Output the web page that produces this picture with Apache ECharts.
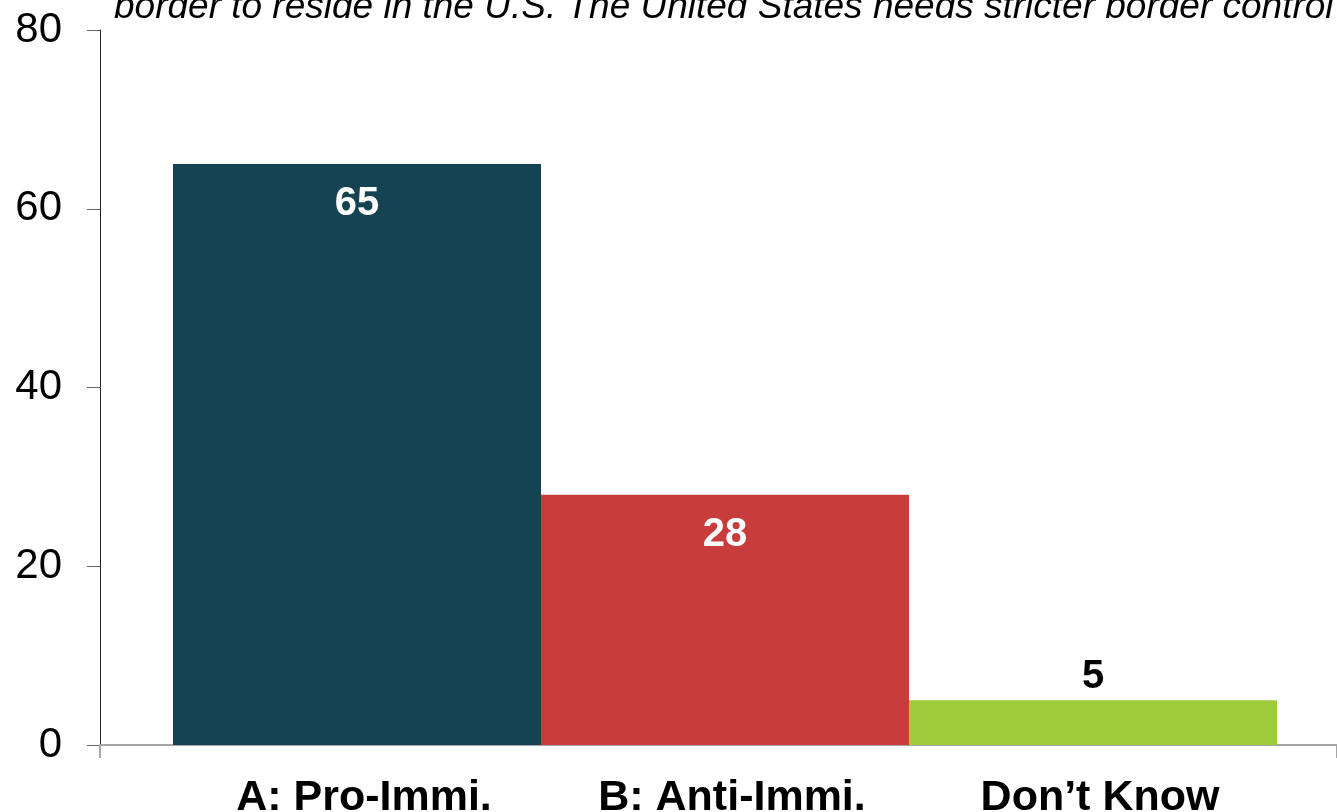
<!DOCTYPE html>
<html>
<head>
<meta charset="utf-8">
<style>
  html, body { margin: 0; padding: 0; background: #fff; }
  #main { width: 1337px; height: 812px; }
</style>
<script src="https://cdn.jsdelivr.net/npm/echarts@6/dist/echarts.min.js"></script>
</head>
<body>
<div id="main"></div>
<script>
// data
const categories = ['A: Pro-Immi.', 'B: Anti-Immi.', 'Don’t Know'];
const values = [65, 28, 5];
const yTicks = [0, 20, 40, 60, 80];
const titleText = 'border to reside in the U.S. The United States needs stricter border control';

const barColors = ['#164352', '#C93C3C', '#9ECB3B'];

const chart = echarts.init(document.getElementById('main'));

// big bars get the number inside in white, small ones above in black
const barData = values.map((v, i) => {
    const inside = v > 10;
    return {
        value: v,
        itemStyle: { color: barColors[i] },
        label: {
            show: true,
            position: inside ? 'insideTop' : 'top',
            distance: inside ? 20 : 3,
            color: inside ? '#fff' : '#000',
            fontSize: 40,
            fontWeight: 'bold',
            fontFamily: 'Liberation Sans'
        }
    };
});

const option = {
    animation: false,
    backgroundColor: '#fff',
    title: {
        text: titleText,
        left: 114,
        top: -11,
        padding: 0,
        textStyle: {
            fontFamily: 'Liberation Sans',
            fontStyle: 'italic',
            fontWeight: 'normal',
            fontSize: 37,
            color: '#000'
        }
    },
    // labels spill past the bottom edge in the original, so no auto-shrinking
    grid: [
        { left: 100, right: 0, top: 30, bottom: 67, outerBoundsMode: 'none' },
        { left: 173, right: 60, top: 30, bottom: 67, outerBoundsMode: 'none' }
    ],
    xAxis: [
        {
            gridIndex: 0,
            type: 'category',
            data: [''],
            axisLine: { lineStyle: { color: '#a6a6a6', width: 2 } },
            axisTick: { show: true, length: 13, lineStyle: { color: '#a6a6a6', width: 2 } },
            axisLabel: { show: false }
        },
        {
            gridIndex: 1,
            type: 'category',
            data: categories,
            axisLine: { show: false },
            axisTick: { show: false },
            axisLabel: {
                margin: 32,
                padding: [0, 0, 0, 14],
                color: '#000',
                fontSize: 43,
                fontWeight: 'bold',
                fontFamily: 'Liberation Sans'
            }
        }
    ],
    yAxis: [
        {
            gridIndex: 0,
            type: 'value',
            min: yTicks[0],
            max: yTicks[yTicks.length - 1],
            interval: yTicks[1] - yTicks[0],
            axisLine: { show: true, lineStyle: { color: '#222', width: 1 } },
            axisTick: { show: true, length: 13, lineStyle: { color: '#666', width: 1 } },
            splitLine: { show: false },
            axisLabel: {
                margin: 38,
                color: '#000',
                fontSize: 42,
                fontFamily: 'Liberation Sans'
            }
        },
        {
            gridIndex: 1,
            type: 'value',
            min: yTicks[0],
            max: yTicks[yTicks.length - 1],
            show: false
        }
    ],
    series: [
        {
            type: 'bar',
            xAxisIndex: 1,
            yAxisIndex: 1,
            barWidth: '100%',
            data: barData
        }
    ]
};

chart.setOption(option);
</script>
</body>
</html>
